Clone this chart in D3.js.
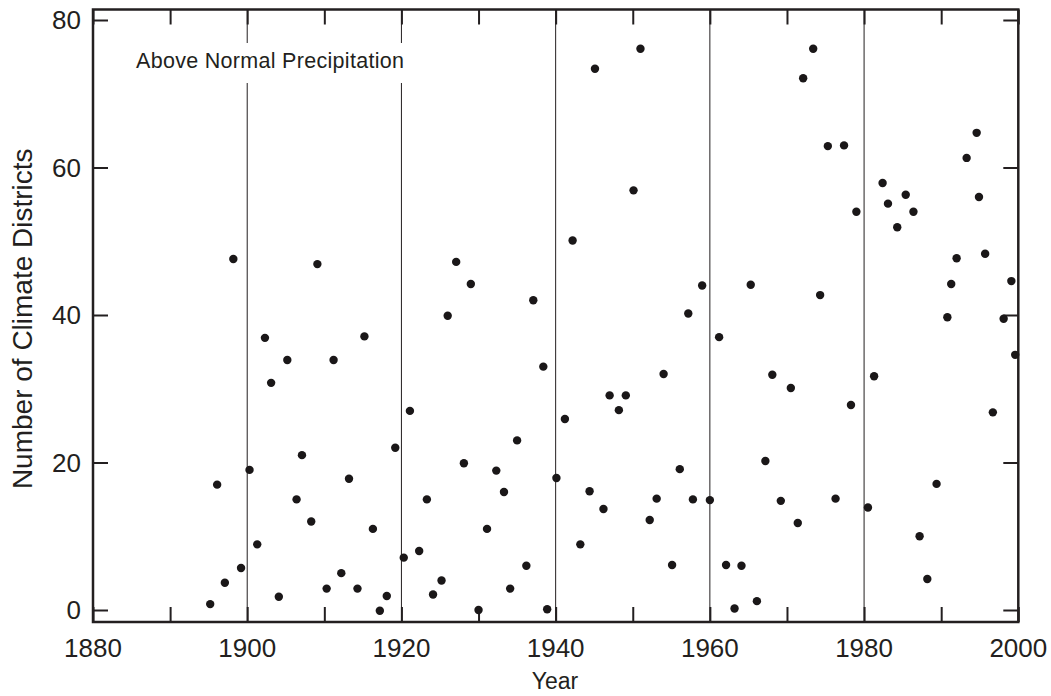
<!DOCTYPE html>
<html>
<head>
<meta charset="utf-8">
<script src="https://cdn.jsdelivr.net/npm/d3@7"></script>
<style>
  html, body { margin: 0; padding: 0; background: #fff; }
  svg { display: block; font-family: "Liberation Sans", Arial, Helvetica, sans-serif; }
</style>
</head>
<body>
<svg id="chart" width="1051" height="696"></svg>
<script>
// Plot position of each yearly point
const years = [
  1895.2, 1896.1, 1897.1, 1898.2, 1899.2, 1900.3, 1901.3, 1902.3, 1903.1, 1904.1,
  1905.2, 1906.4, 1907.1, 1908.3, 1909.1, 1910.3, 1911.2, 1912.2, 1913.2, 1914.3,
  1915.2, 1916.3, 1917.2, 1918.1, 1919.2,
  1920.3, 1921.1, 1922.3, 1923.3, 1924.1, 1925.2, 1926.0, 1927.1, 1928.1, 1929.0,
  1930.0, 1931.1, 1932.3, 1933.3, 1934.1, 1935.0, 1936.2, 1937.1, 1938.4, 1938.9,
  1940.1, 1941.2, 1942.2, 1943.2, 1944.4, 1945.1, 1946.2, 1947.0, 1948.2, 1949.1,
  1950.1, 1951.0, 1952.2, 1953.1, 1954.0, 1955.1, 1956.1, 1957.2, 1957.8, 1959.0,
  1960.0,
  1961.2, 1962.1, 1963.2, 1964.1, 1965.3, 1966.1, 1967.2, 1968.1, 1969.2, 1970.5,
  1971.4, 1972.1, 1973.4, 1974.3, 1975.3, 1976.3, 1977.4, 1978.3, 1979.0, 1980.5,
  1981.3, 1982.4, 1983.1, 1984.3, 1985.4, 1986.4, 1987.2, 1988.2, 1989.4, 1990.8,
  1991.3, 1992.0, 1993.3, 1994.6, 1994.9, 1995.7, 1996.7, 1998.1, 1999.1, 1999.6
];
// Number of climate districts with above normal precipitation
const districts = [
  0.8, 17, 3.7, 47.6, 5.7, 19, 8.9, 36.9, 30.8, 1.8,
  33.9, 15, 21, 12, 46.9, 2.9, 33.9, 5, 17.8, 2.9,
  37.1, 11, -0.1, 1.9, 22,
  7.1, 27, 8, 15, 2.1, 4, 39.9, 47.2, 19.9, 44.2,
  0, 11, 18.9, 16, 2.9, 23, 6, 42, 33, 0.1,
  17.9, 25.9, 50.1, 8.9, 16.1, 73.4, 13.7, 29.1, 27.1, 29.1,
  56.9, 76.1, 12.2, 15.1, 32, 6.1, 19.1, 40.2, 15, 44,
  14.9,
  37, 6.1, 0.2, 6, 44.1, 1.2, 20.2, 31.9, 14.8, 30.1,
  11.8, 72.1, 76.1, 42.7, 62.9, 15.1, 63, 27.8, 54, 13.9,
  31.7, 57.9, 55.1, 51.9, 56.3, 54, 10, 4.2, 17.1, 39.7,
  44.2, 47.7, 61.3, 64.7, 56, 48.3, 26.8, 39.5, 44.6, 34.6
];
const xTicks = [1880, 1890, 1900, 1910, 1920, 1930, 1940, 1950, 1960, 1970, 1980, 1990, 2000];
const xTickLabels = [1880, 1900, 1920, 1940, 1960, 1980, 2000];
const decadeLines = [1900, 1920, 1940, 1960, 1980];
const yTicks = [0, 20, 40, 60, 80];
const panelLabel = "Above Normal Precipitation";
const xTitle = "Year";
const yTitle = "Number of Climate Districts";

const ink = "#231f20";
const svg = d3.select("#chart");
const L = 93, R = 1018.3, T = 9.5, B = 622;

const x = d3.scaleLinear().domain([1880, 2000]).range([L, R]);
const y = d3.scaleLinear().domain([0, 80]).range([610, 20]);

// decade reference lines
svg.append("g").selectAll("line").data(decadeLines).join("line")
  .attr("x1", d => x(d)).attr("x2", d => x(d))
  .attr("y1", T).attr("y2", B)
  .attr("stroke", ink).attr("stroke-width", 1);

// panel label with white background
const lbl = svg.append("text")
  .attr("x", 136).attr("y", 67.5)
  .attr("font-size", 21.5).attr("letter-spacing", 0.3).attr("fill", ink)
  .text(panelLabel);
const bb = lbl.node().getBBox();
svg.insert("rect", "text")
  .attr("x", bb.x - 8).attr("y", 43)
  .attr("width", bb.width + 14).attr("height", 40)
  .attr("fill", "#fff");

// axes with inward ticks
const tickLen = 15;
const gB = svg.append("g").attr("transform", `translate(0,${B})`)
  .call(d3.axisBottom(x).tickValues(xTicks).tickSizeInner(-tickLen).tickSizeOuter(0).tickFormat(""));
const gT = svg.append("g").attr("transform", `translate(0,${T})`)
  .call(d3.axisTop(x).tickValues(xTicks).tickSizeInner(-tickLen).tickSizeOuter(0).tickFormat(""));
const gL = svg.append("g").attr("transform", `translate(${L},0)`)
  .call(d3.axisLeft(y).tickValues(yTicks).tickSizeInner(-tickLen).tickSizeOuter(0).tickFormat(""));
const gR = svg.append("g").attr("transform", `translate(${R},0)`)
  .call(d3.axisRight(y).tickValues(yTicks).tickSizeInner(-tickLen).tickSizeOuter(0).tickFormat(""));
[gB, gT, gL, gR].forEach(g => {
  g.select(".domain").remove();
  g.selectAll(".tick line").attr("stroke", ink).attr("stroke-width", 2);
});

// tick labels
svg.append("g").selectAll("text").data(xTickLabels).join("text")
  .attr("x", d => x(d)).attr("y", 657)
  .attr("text-anchor", "middle").attr("font-size", 26).attr("fill", ink)
  .text(d => d);
svg.append("g").selectAll("text").data(yTicks).join("text")
  .attr("x", 81).attr("y", d => y(d) + 9.3)
  .attr("text-anchor", "end").attr("font-size", 26).attr("fill", ink)
  .text(d => d);

// frame
svg.append("rect")
  .attr("x", L).attr("y", T).attr("width", R - L).attr("height", B - T)
  .attr("fill", "none").attr("stroke", ink).attr("stroke-width", 2.5);

// points
svg.append("g").selectAll("circle").data(years.map((yr, i) => [yr, districts[i]])).join("circle")
  .attr("cx", d => x(d[0])).attr("cy", d => y(d[1]))
  .attr("r", 4.2).attr("fill", "#1a1718");

// axis titles
svg.append("text")
  .attr("x", 555).attr("y", 689)
  .attr("text-anchor", "middle").attr("font-size", 23).attr("fill", ink)
  .text(xTitle);
svg.append("text")
  .attr("transform", `translate(32,${(T + B) / 2 + 3}) rotate(-90)`)
  .attr("text-anchor", "middle").attr("font-size", 28).attr("fill", ink)
  .text(yTitle);
</script>
</body>
</html>
